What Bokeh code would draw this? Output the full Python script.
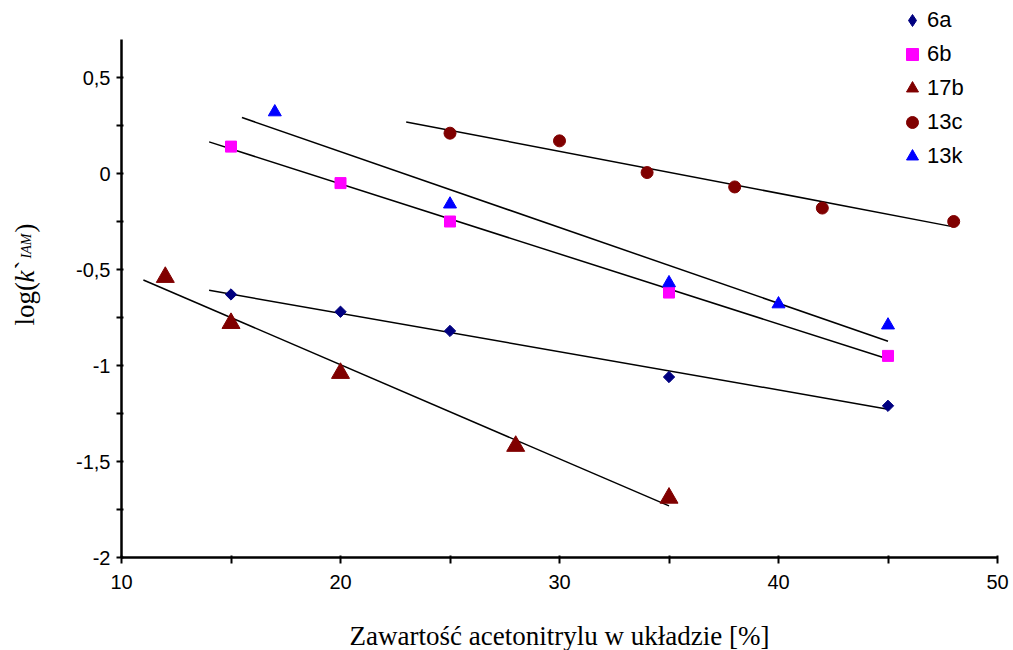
import numpy as np
from bokeh.plotting import figure
from bokeh.models import Range1d, FixedTicker, Legend, LegendItem
from bokeh.core.properties import value
from bokeh.embed import file_html
from bokeh.resources import INLINE

# ---- data ----
x_6a = [15, 20, 25, 35, 45]
y_6a = [-0.63, -0.72, -0.82, -1.06, -1.21]
x_6b = [15, 20, 25, 35, 45]
y_6b = [0.14, -0.05, -0.25, -0.62, -0.95]
x_17b = [12, 15, 20, 28, 35]
y_17b = [-0.54, -0.78, -1.04, -1.42, -1.69]
x_13c = [25, 30, 34, 38, 42, 48]
y_13c = [0.21, 0.17, 0.005, -0.07, -0.18, -0.25]
x_13k = [17, 25, 35, 40, 45]
y_13k = [0.32, -0.16, -0.57, -0.68, -0.79]

# x extent of each linear trend line
trend_6a = [14, 45]
trend_6b = [14, 45]
trend_17b = [11, 35]
trend_13c = [23, 48]
trend_13k = [15.5, 45]

series_names = ["6a", "6b", "17b", "13c", "13k"]
x_ticks = [10, 20, 30, 40, 50]
x_minor = [15, 25, 35, 45]
y_ticks = [-2, -1.5, -1, -0.5, 0, 0.5]
y_tick_labels = ["-2", "-1,5", "-1", "-0,5", "0", "0,5"]
y_minor = [-1.75, -1.25, -0.75, -0.25, 0.25]
x_title = "Zawartość acetonitrylu w układzie [%]"

# ---- layout constants (pixels) ----
W, H = 1013, 650
AX_LEFT_PX = 121           # where x = 10 sits
PX_PER_X = 21.9
PX_PER_Y = 192.0
ZERO_Y_PX = 173            # where y = 0 sits

x_start = 10 - AX_LEFT_PX / PX_PER_X
x_end = x_start + W / PX_PER_X
y_end = ZERO_Y_PX / PX_PER_Y
y_start = (ZERO_Y_PX - H) / PX_PER_Y


def px_to_x(px):
    return x_start + px / PX_PER_X


def px_to_y(py):
    return (ZERO_Y_PX - py) / PX_PER_Y


p = figure(width=W, height=H, x_range=Range1d(x_start, x_end), y_range=Range1d(y_start, y_end),
           output_backend="svg", toolbar_location=None, min_border=0)
p.outline_line_color = None
p.xgrid.visible = False
p.ygrid.visible = False

specs = [
    (x_6a, y_6a, trend_6a, dict(marker="square", angle=np.pi / 4, size=8, color="#000080")),
    (x_6b, y_6b, trend_6b, dict(marker="square", size=11, color="#FF00FF")),
    (x_17b, y_17b, trend_17b, dict(marker="triangle", size=18, color="#800000")),
    (x_13c, y_13c, trend_13c, dict(marker="circle", size=12, color="#800000")),
    (x_13k, y_13k, trend_13k, dict(marker="triangle", size=13, color="#0000FF")),
]

for name, (xs, ys, tr, st) in zip(series_names, specs):
    k, b = np.polyfit(np.array(xs, float), np.array(ys, float), 1)
    tx = np.array(tr, float)
    p.line(tx, k * tx + b, line_color="black", line_width=1.5)

items = []
for name, (xs, ys, tr, st) in zip(series_names, specs):
    r = p.scatter(xs, ys, marker=st["marker"], size=st["size"], angle=st.get("angle", 0),
                  fill_color=st["color"], line_color=st["color"])
    if st.get("angle", 0):
        # legend swatch drawn as a diamond (legend swatches ignore the marker angle)
        lr = p.scatter([np.nan], [np.nan], marker="diamond", size=10, fill_color=st["color"],
                       line_color=st["color"])
        items.append(LegendItem(label=name, renderers=[lr]))
    else:
        items.append(LegendItem(label=name, renderers=[r]))

legend = Legend(items=items, location=(897, H - 171), orientation="vertical",
                glyph_width=30, glyph_height=30, label_height=30, spacing=4,
                label_standoff=0, padding=0, margin=0, border_line_color=None,
                background_fill_alpha=0,
                label_text_font="Liberation Sans", label_text_font_size="22px",
                label_text_color="black")
p.add_layout(legend, "center")

# ---- axes ----
xa = p.xaxis[0]
xa.fixed_location = -2
xa.ticker = FixedTicker(ticks=x_ticks, minor_ticks=x_minor)
xa.bounds = (10, 50)
xa.axis_line_width = 2.5
xa.axis_line_color = "black"
xa.major_tick_line_width = 2
xa.minor_tick_line_width = 2
xa.major_tick_out = 6
xa.major_tick_in = 2
xa.minor_tick_out = 6
xa.minor_tick_in = 2
xa.major_label_standoff = 11
xa.major_label_text_font = "Liberation Sans"
xa.major_label_text_font_size = "20px"
xa.major_label_text_color = "black"

ya = p.yaxis[0]
ya.fixed_location = 10
ya.ticker = FixedTicker(ticks=y_ticks, minor_ticks=y_minor)
ya.major_label_overrides = {t: s for t, s in zip(y_ticks, y_tick_labels)}
ya.bounds = (-2, 0.7)
ya.axis_line_width = 2.5
ya.axis_line_color = "black"
ya.major_tick_line_width = 2
ya.minor_tick_line_width = 2
ya.major_tick_out = 5
ya.major_tick_in = 2
ya.minor_tick_out = 5
ya.minor_tick_in = 2
ya.major_label_standoff = 6
ya.major_label_text_font = "Liberation Sans"
ya.major_label_text_font_size = "20px"
ya.major_label_text_color = "black"

# ---- x-axis title ----
p.text(x=[30], y=[px_to_y(635)], text=[x_title], text_font=value("Liberation Serif"),
       text_font_size="27px", text_align="center", text_baseline="alphabetic",
       text_color="black")

# ---- y-axis title built from styled pieces, rotated ----
pieces = [
    ("log(", 24.0, 325, "normal", "27px"),
    ("k", 24.0, 282, "italic", "27px"),
    ("`", 24.0, 269, "normal", "27px"),
    ("IAM", 25.5, 258, "italic", "14px"),
    (")", 24.0, 232, "normal", "27px"),
]
for txt, bx, py, style, size in pieces:
    p.text(x=[px_to_x(bx)], y=[px_to_y(py)], text=[txt], angle=np.pi / 2,
           text_font=value("Liberation Serif"), text_font_style=style,
           text_font_size=size, text_align="left", text_baseline="alphabetic",
           text_color="black")

open("out.html", "w").write(file_html(p, INLINE))
